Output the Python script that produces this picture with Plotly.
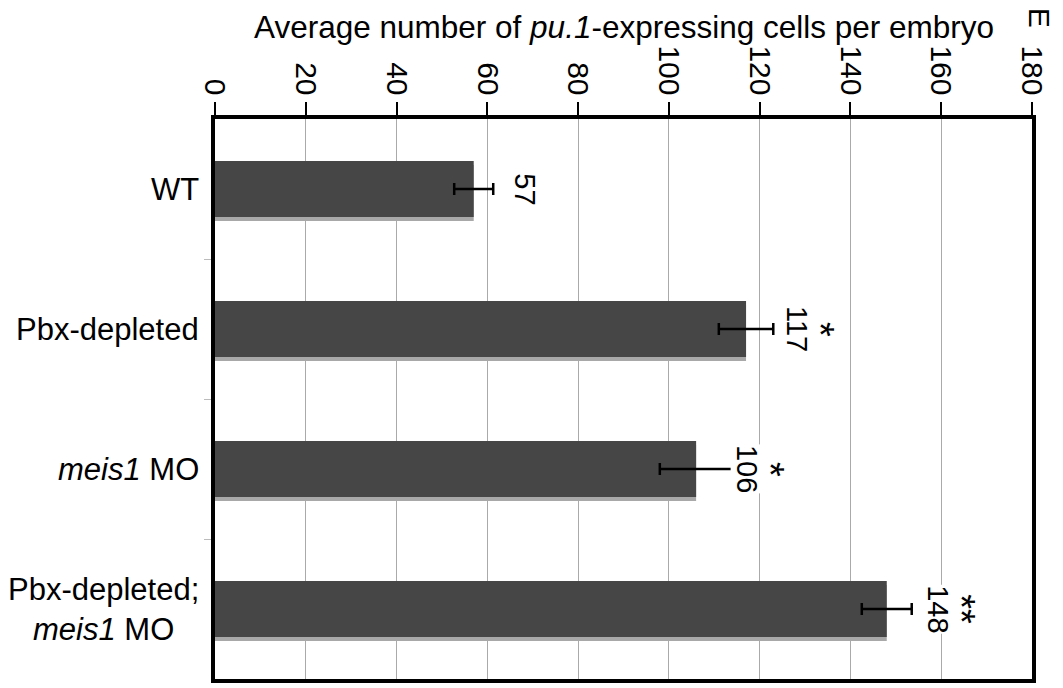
import plotly.graph_objects as go

categories = ["WT", "Pbx-depleted", "<i>meis1</i> MO", "Pbx-depleted;<br><i>meis1</i> MO"]
values = [57, 117, 106, 148]
errors = [4.3, 6.0, 8.0, 5.5]
value_labels = ["57", "117", "106", "148"]
stars = ["", "*", "*", "**"]
x_ticks = [0, 20, 40, 60, 80, 100, 120, 140, 160, 180]

FONT = "Liberation Sans, Arial, sans-serif"
ypos = list(range(len(categories)))

# page body has an 8px margin, so the figure is a bit smaller than the window
W, H = 1055, 680
ml, mr, mt, mb = 207, 31, 111, 5
pw, ph = W - ml - mr, H - mt - mb

fig = go.Figure()
# shadow
fig.add_trace(go.Bar(
    y=ypos, x=values, orientation="h", width=0.4, offset=-0.172,
    marker=dict(color="#a8a8a8", line=dict(width=0)), hoverinfo="skip", showlegend=False,
))
fig.add_trace(go.Bar(
    y=ypos, x=values, orientation="h", width=0.4, offset=-0.2,
    marker=dict(color="#464646", line=dict(width=0)),
    error_x=dict(type="data", array=errors, color="black", thickness=2.5, width=6),
    showlegend=False,
))

annotations = []
for i, (v, lab, st) in enumerate(zip(values, value_labels, stars)):
    annotations.append(dict(
        x=v, y=i, xref="x", yref="y", text=lab, textangle=90, showarrow=False,
        xshift=51, font=dict(family=FONT, size=29, color="black"),
        bgcolor="white", borderpad=0,
    ))
    if st:
        annotations.append(dict(
            x=v, y=i, xref="x", yref="y", text=st, textangle=90, showarrow=False,
            xshift=74, font=dict(family=FONT, size=38, color="black"),
        ))
for i, c in enumerate(categories):
    annotations.append(dict(
        x=0, y=i, xref="paper", yref="y", text=c, showarrow=False,
        xanchor="right", yanchor="middle", align="center", xshift=-14,
        font=dict(family=FONT, size=31, color="black"),
    ))
annotations.append(dict(
    x=0.5, y=1 + (mt - 18) / ph, xref="paper", yref="paper",
    text="Average number of <i>pu.1</i>-expressing cells per embryo",
    showarrow=False, xanchor="center", yanchor="middle",
    font=dict(family=FONT, size=31.5, color="black"),
))
annotations.append(dict(
    x=(1031 - ml) / pw, y=1 + (mt - 9) / ph, xref="paper", yref="paper",
    text="E", textangle=90, showarrow=False,
    xanchor="center", yanchor="middle",
    font=dict(family=FONT, size=30, color="black"),
))

fig.update_layout(
    width=W, height=H,
    margin=dict(l=ml, r=mr, t=mt, b=mb),
    paper_bgcolor="white", plot_bgcolor="white",
    barmode="overlay",
    font=dict(family=FONT, size=30, color="black"),
    annotations=annotations,
    xaxis=dict(
        side="top", range=[0, 180], tickvals=x_ticks, ticktext=[str(t) for t in x_ticks],
        tickangle=90, ticks="outside", ticklen=13, tickwidth=2, tickcolor="black",
        ticklabelstandoff=-4,
        tickfont=dict(family=FONT, size=30, color="black"),
        showgrid=True, gridcolor="#aaaaaa", gridwidth=1,
        showline=True, linecolor="black", linewidth=4, mirror=True,
        zeroline=False, fixedrange=True,
    ),
    yaxis=dict(
        range=[3.5, -0.5], tickvals=[0.5, 1.5, 2.5], ticktext=["", "", ""],
        ticks="outside", ticklen=7, tickwidth=1, tickcolor="#bbbbbb",
        showgrid=False, showline=True, linecolor="black", linewidth=4, mirror=True,
        zeroline=False, fixedrange=True,
    ),
)

fig.write_html("out.html")
